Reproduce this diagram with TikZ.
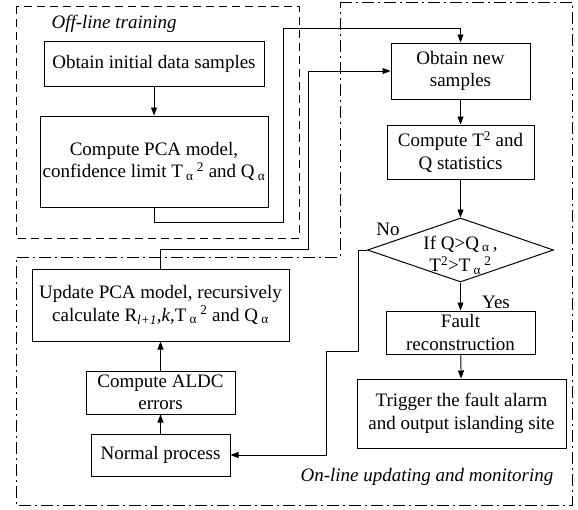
\documentclass[tikz,border=0pt]{standalone}
\usepackage{fontspec}
\setmainfont{Liberation Serif}
\usetikzlibrary{arrows.meta,shapes.geometric}

\newcommand{\sa}{\,\textsubscript{α}}
\newcommand{\sq}{\textsuperscript{2}}

\begin{document}
\begin{tikzpicture}[x=1pt,y=-1pt,
  txt/.style={font=\fontsize{19}{22.5}\selectfont},
  box/.style={txt,draw,line width=1pt,align=center,inner sep=2pt},
  flow/.style={line width=0.9pt,-{Triangle[length=8pt,width=6pt]}},
  offarea/.style={line width=0.9pt,dash pattern=on 8pt off 5pt},
  onarea/.style={line width=0.9pt,dash pattern=on 12pt off 4pt on 2pt off 4pt},
]
\useasboundingbox (0,0) rectangle (578,509);

% group frames
\draw[offarea] (16,6) rectangle (299,238);
\draw[onarea] (340,2) -- (572,2) -- (572,505) -- (16,505) -- (16,257) -- (340,257) -- cycle;
\node[txt,font=\fontsize{19}{22.5}\selectfont\itshape,anchor=west] (offlbl) at (48,24) {Off-line training};
\node[txt,font=\fontsize{19}{22.5}\selectfont\itshape] (onlbl) at (427,477) {On-line updating and monitoring};

% off-line steps
\node[box,minimum width=220pt,minimum height=45pt] (init) at (154,63.5) {Obtain initial data samples};
\node[box,minimum width=228pt,minimum height=91pt] (pca) at (154,161.5)
  {Compute PCA model,\\confidence limit T\sa\,\sq{} and Q\sa};

% on-line monitoring
\node[box,minimum width=139pt,minimum height=56pt] (new) at (460.5,71) {Obtain new\\samples};
\node[box,minimum width=147pt,minimum height=54pt] (stat) at (460.5,152) {Compute T\sq{} and\\Q statistics};
\node[draw,line width=1pt,diamond,minimum width=186pt,minimum height=64pt,inner sep=0pt] (dia) at (460.5,250) {};
\node[txt,align=center,inner sep=0pt] (diatxt) at (460.5,255) {If Q>Q\sa\,,\\T\sq>T\sa\,\sq};
\node[txt] (no) at (388,229) {No};
\node[txt] (yes) at (496,302) {Yes};
\node[box,minimum width=149pt,minimum height=43pt] (fault) at (460.5,332.5) {Fault\\reconstruction};
\node[box,minimum width=209pt,minimum height=69pt] (trig) at (461.5,413.5) {Trigger the fault alarm\\and output islanding site};

% on-line updating
\node[box,minimum width=257pt,minimum height=72pt] (upd) at (160.5,305)
  {Update PCA model, recursively\\calculate R\textsubscript{\textit{l+1}},\textit{k},T\sa\,\sq{} and Q\sa};
\node[box,minimum width=149pt,minimum height=43pt] (aldc) at (160.5,392.5) {Compute ALDC\\errors};
\node[box,minimum width=139pt,minimum height=42pt] (norm) at (160.5,455) {Normal process};

% routing points
\coordinate (a1) at (154,222);
\coordinate (a2) at (283,222);
\coordinate (a3) at (283,28);
\coordinate (a4) at (460.5,28);
\coordinate (b1) at (160.5,249);
\coordinate (b2) at (308,249);
\coordinate (b3) at (308,71);
\coordinate (c1) at (358,250);
\coordinate (c2) at (358,351);
\coordinate (c3) at (326,351);
\coordinate (c4) at (326,455);

% connectors
\draw[flow] (init) -- (pca);
\draw[flow] (pca.south) -- (a1) -- (a2) -- (a3) -- (a4) -- (new.north);
\draw[flow] (upd.north) -- (b1) -- (b2) -- (b3) -- (new.west);
\draw[flow] (new) -- (stat);
\draw[flow] (stat) -- (dia.north);
\draw[flow] (dia.south) -- (fault.north);
\draw[flow] (fault) -- (trig);
\draw[flow] (dia.west) -- (c1) -- (c2) -- (c3) -- (c4) -- (norm.east);
\draw[flow] (norm) -- (aldc);
\draw[flow] (aldc) -- (upd);
\end{tikzpicture}
\end{document}
